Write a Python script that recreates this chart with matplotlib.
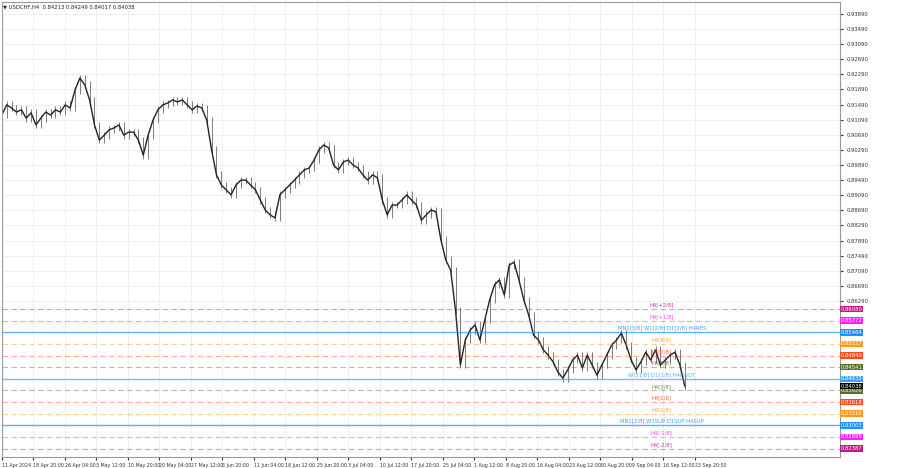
import matplotlib.pyplot as plt
import numpy as np

closes = [0.9121, 0.9148, 0.9140, 0.9129, 0.9135, 0.9113, 0.9127, 0.9095, 0.9113, 0.9129,
          0.9121, 0.9135, 0.9129, 0.9148, 0.9140, 0.9187, 0.9219, 0.9201, 0.9161, 0.9095,
          0.9055, 0.9068, 0.9082, 0.9087, 0.9095, 0.9068, 0.9076, 0.9076, 0.9055, 0.9015,
          0.9068, 0.9108, 0.9135, 0.9148, 0.9153, 0.9161, 0.9156, 0.9161, 0.9148, 0.9135,
          0.9145, 0.9140, 0.9108, 0.9029, 0.8963, 0.8936, 0.8923, 0.8910, 0.8936, 0.8949,
          0.8949, 0.8936, 0.8923, 0.8896, 0.8870, 0.8857, 0.8849, 0.8910, 0.8923, 0.8936,
          0.8949, 0.8963, 0.8976, 0.8981, 0.9002, 0.9029, 0.9042, 0.9034, 0.8989, 0.8976,
          0.8997, 0.9002, 0.8989, 0.8981, 0.8963, 0.8949, 0.8963, 0.8955, 0.8896, 0.8857,
          0.8883, 0.8883, 0.8896, 0.8910, 0.8896, 0.8883, 0.8843, 0.8857, 0.8870, 0.8865,
          0.8791, 0.8738, 0.8711, 0.8605, 0.8460, 0.8526, 0.8552, 0.8566, 0.8526, 0.8579,
          0.8632, 0.8672, 0.8685, 0.8645, 0.8724, 0.8732, 0.8685, 0.8632, 0.8592, 0.8539,
          0.8526, 0.8500, 0.8486, 0.8468, 0.8441, 0.8425, 0.8447, 0.8473, 0.8486, 0.8452,
          0.8486, 0.8460, 0.8433, 0.8460, 0.8486, 0.8512, 0.8526, 0.8544, 0.8512, 0.8473,
          0.8447, 0.8468, 0.8494, 0.8473, 0.8500, 0.8460, 0.8473, 0.8486, 0.8494, 0.8460,
          0.84038]

# Murrey-style levels
level_prices = [0.86080, 0.85772, 0.85464, 0.85157, 0.84849, 0.84541, 0.84233,
                0.83926, 0.83618, 0.83310, 0.83003, 0.82695, 0.82387]
level_names = ['H4[+2/8]', 'H4[+1/8]', 'MN1[3/8] W1[2/8] D1[2/8] H4RES', 'H4[8/8]', 'H4[7/8]',
               'H4[6/8]', 'W1[1/8] D1[1/8] H4PIVOT', 'H4[3/8]', 'H4[2/8]', 'H4[1/8]',
               'MN1[2/8] W1SUP D1SUP H4SUP', 'H4[-1/8]', 'H4[-2/8]']
level_colors = ['#c0168c', '#ff20ff', '#1e90ff', '#ff9a1a', '#ff4a1a', '#5a6e2a', '#3aa0ff',
                '#5a6e2a', '#ff4a1a', '#ff9a1a', '#1e90ff', '#ff20ff', '#c0168c']
level_solid = [False, False, True, False, False, False, True, False, False, False, True, False, False]

date_labels = ['11 Apr 2024', '18 Apr 20:00', '26 Apr 04:00', '3 May 12:00', '10 May 20:00',
               '20 May 04:00', '27 May 12:00', '3 Jun 20:00', '11 Jun 04:00', '18 Jun 12:00',
               '25 Jun 20:00', '3 Jul 04:00', '10 Jul 12:00', '17 Jul 20:00', '25 Jul 04:00',
               '1 Aug 12:00', '8 Aug 20:00', '16 Aug 04:00', '23 Aug 12:00', '30 Aug 20:00',
               '9 Sep 04:00', '16 Sep 12:00', '23 Sep 20:00']

current = 0.84038
price_ticks = np.arange(0.86290, 0.9400, 0.004)

fig = plt.figure(figsize=(9, 4.68), dpi=100)
ax = fig.add_axes([0.002, 1 - 457 / 468, 838 / 900, 455 / 468])

n = len(closes)
xs = np.arange(n)
opens = [closes[0]] + closes[:-1]
wick = 0.0009
for i in range(n):
    lo = min(opens[i], closes[i]) - wick
    hi = max(opens[i], closes[i]) + wick
    ax.vlines(i, lo, hi, color='#666666', lw=0.6)
ax.plot(xs, closes, color='#222222', lw=1.0)

# px -> index scaling: data spans ~683px of 838px
xmax = (n - 1) * 838 / 683
ax.set_xlim(0, xmax)
ax.set_ylim(0.82165, 0.94202)

lab_x = (n - 1) * 660 / 683
for p, name, c, solid in zip(level_prices, level_names, level_colors, level_solid):
    if solid:
        ax.axhline(p, color=c, lw=1.0, alpha=0.7)
    else:
        ax.axhline(p, color=c, lw=0.8, alpha=0.45, ls=(0, (5, 3)))
    ax.text(lab_x, p + 0.0004, name, color=c, fontsize=3.8, ha='center', va='bottom', alpha=0.85)
    ax.text(1.001, p, '%.5f' % p, transform=ax.get_yaxis_transform(), fontsize=3.8,
            color='white', va='center', ha='left',
            bbox=dict(boxstyle='square,pad=0.15', fc=c, ec='none'))
ax.text(1.001, current, '%.5f' % current, transform=ax.get_yaxis_transform(), fontsize=3.8,
        color='white', va='center', ha='left', bbox=dict(boxstyle='square,pad=0.15', fc='black', ec='none'))

ax.yaxis.tick_right()
ax.set_yticks(price_ticks)
ax.set_yticklabels(['%.5f' % t for t in price_ticks], fontsize=3.8)
ax.tick_params(axis='y', length=2, pad=3, colors='#333333')

step = 31.5 / 683 * (n - 1)
xt = np.arange(len(date_labels)) * step
ax.set_xticks(xt)
ax.set_xticklabels(date_labels, fontsize=3.4, ha='left')
ax.tick_params(axis='x', length=2, pad=2, colors='#333333')

ax.grid(True, color='#ececec', lw=0.6)
ax.set_axisbelow(True)
for s in ax.spines.values():
    s.set_color('#999999')
    s.set_linewidth(0.8)

fig.text(0.003, 0.99, '\u25bc USDCHF,H4  0.84213 0.84249 0.84017 0.84038', fontsize=3.8,
         va='top', ha='left', color='#222222')

fig.savefig('out.png', dpi=100)
